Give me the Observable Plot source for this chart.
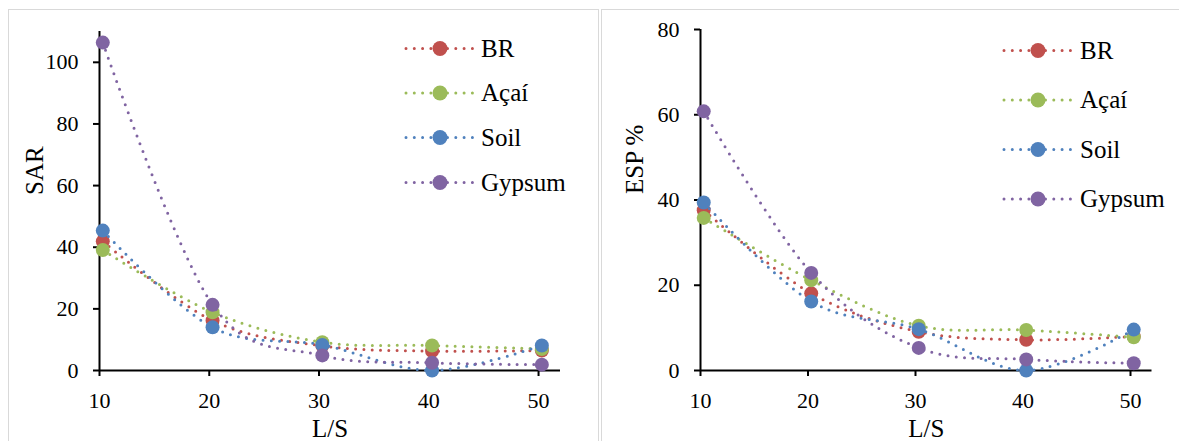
<!DOCTYPE html>
<html>
<head>
<meta charset="utf-8">
<script src="https://cdn.jsdelivr.net/npm/d3@7"></script>
<script src="https://cdn.jsdelivr.net/npm/@observablehq/plot@0.6"></script>
<style>
  html, body { margin: 0; padding: 0; background: #fff; }
  #wrap { position: relative; width: 1179px; height: 441px; overflow: hidden; background: #fff; font-family: "Liberation Serif", "Times New Roman", serif; }
  #wrap svg, #wrap svg text { font-family: "Liberation Serif", "Times New Roman", serif !important; }
  .panel { position: absolute; top: 0; }
  .border { position: absolute; border: 1.5px solid #d9d9d9; pointer-events: none; box-sizing: border-box; }
  .legend { position: absolute; left: 0; top: 0; pointer-events: none; }
</style>
</head>
<body>
<div id="wrap"></div>
<script>
// ---- data ----
const lsValues = [10.3, 20.3, 30.3, 40.3, 50.3];
const xTicks = [10, 20, 30, 40, 50];
const seriesNames = ["BR", "Açaí", "Soil", "Gypsum"];
const seriesColors = ["#C0504D", "#9BBB59", "#4F81BD", "#8064A2"];

const sarBR     = [41.9, 16.2, 8.0, 6.3, 6.5];
const sarAcai   = [39.1, 18.9, 9.2, 8.1, 7.0];
const sarSoil   = [45.4, 14.0, 8.3, 0.0, 8.1];
const sarGypsum = [106.4, 21.3, 4.9, 2.5, 1.9];
const sarTicks  = [0, 20, 40, 60, 80, 100];

const espBR     = [37.6, 18.1, 9.1, 7.2, 8.0];
const espAcai   = [35.8, 21.2, 10.5, 9.5, 7.8];
const espSoil   = [39.4, 16.2, 9.7, 0.0, 9.6];
const espGypsum = [60.8, 22.9, 5.3, 2.6, 1.7];
const espTicks  = [0, 20, 40, 60, 80];

const serif = "'Liberation Serif', 'Times New Roman', serif";

function table(seriesValues) {
  const rows = [];
  seriesValues.forEach((vals, si) => {
    vals.forEach((v, i) => rows.push({x: lsValues[i], y: v, series: seriesNames[si]}));
  });
  return rows;
}

function seriesMarks(rows) {
  const marks = [];
  seriesNames.forEach((name, si) => {
    const d = rows.filter(r => r.series === name);
    marks.push(Plot.line(d, {x: "x", y: "y", stroke: seriesColors[si], strokeWidth: 3,
      strokeDasharray: "0 8.3", strokeLinecap: "round", curve: "cardinal", tension: 0}));
    marks.push(Plot.dot(d, {x: "x", y: "y", r: 7, fill: seriesColors[si], stroke: null}));
  });
  return marks;
}

function makeChart(opts) {
  const rows = table(opts.values);
  return Plot.plot({
    width: opts.width, height: 441,
    marginLeft: opts.marginLeft, marginRight: opts.marginRight,
    marginTop: opts.marginTop, marginBottom: 71,
    x: {domain: [10, 52]},
    y: {domain: opts.yDomain},
    style: {fontFamily: serif, fontSize: "22px", color: "#000", background: "transparent", overflow: "visible"},
    marks: [
      Plot.axisX({ticks: xTicks, tickSize: 6, tickPadding: 16, strokeWidth: 2, label: null, fontSize: 22, fontFamily: serif, fill: "#000"}),
      Plot.axisY({ticks: opts.yTicks, tickSize: 6, tickPadding: 15, strokeWidth: 2, label: null, fontSize: 22, fontFamily: serif, fill: "#000"}),
      Plot.ruleY([0], {strokeWidth: 2, stroke: "#000"}),
      Plot.ruleX([10], {strokeWidth: 2, stroke: "#000"}),
      ...seriesMarks(rows),
      Plot.text(["L/S"], {frameAnchor: "bottom", lineAnchor: "top", dy: 49, fontSize: 25, fontFamily: serif, fill: "#000"}),
      Plot.text([opts.yTitle], {frameAnchor: "left", rotate: -90, dx: opts.yTitleDx, dy: -6, fontSize: 25, fontFamily: serif, fill: "#000"})
    ]
  });
}

const wrap = document.getElementById("wrap");

const left = makeChart({width: 600, marginLeft: 99, marginRight: 40, marginTop: 31,
  yDomain: [0, 110], yTicks: sarTicks, yTitle: "SAR", values: [sarBR, sarAcai, sarSoil, sarGypsum], yTitleDx: -65});
const leftDiv = document.createElement("div");
leftDiv.className = "panel"; leftDiv.style.left = "0px";
leftDiv.appendChild(left); wrap.appendChild(leftDiv);

const right = makeChart({width: 579, marginLeft: 100, marginRight: 27.5, marginTop: 29,
  yDomain: [0, 80], yTicks: espTicks, yTitle: "ESP %", values: [espBR, espAcai, espSoil, espGypsum], yTitleDx: -66});
const rightDiv = document.createElement("div");
rightDiv.className = "panel"; rightDiv.style.left = "600px";
rightDiv.appendChild(right); wrap.appendChild(rightDiv);

// panel borders
[[8, 9, 591, 460], [601, 9, 600, 460]].forEach(([l, t, w, h]) => {
  const b = document.createElement("div");
  b.className = "border";
  Object.assign(b.style, {left: l + "px", top: t + "px", width: w + "px", height: h + "px"});
  wrap.appendChild(b);
});

// legends
function legend(x0, x1, xm, xt, rowsY) {
  const svg = d3.create("svg").attr("class", "legend").attr("width", 1179).attr("height", 441);
  seriesNames.forEach((name, i) => {
    const y = rowsY[i];
    svg.append("line").attr("x1", x0).attr("x2", x1).attr("y1", y).attr("y2", y)
      .attr("stroke", seriesColors[i]).attr("stroke-width", 3)
      .attr("stroke-dasharray", "0 8.3").attr("stroke-linecap", "round");
    svg.append("circle").attr("cx", xm).attr("cy", y).attr("r", 7.5).attr("fill", seriesColors[i]);
    svg.append("text").attr("x", xt).attr("y", y).attr("dy", "0.32em")
      .style("font-family", serif)
      .style("font-size", "25px").attr("fill", "#000").text(name);
  });
  wrap.appendChild(svg.node());
}
legend(406, 474, 440, 481, [48.5, 93, 137.5, 182.5]);
legend(1004, 1072, 1038, 1080, [50.5, 100, 149.5, 199]);
</script>
</body>
</html>
